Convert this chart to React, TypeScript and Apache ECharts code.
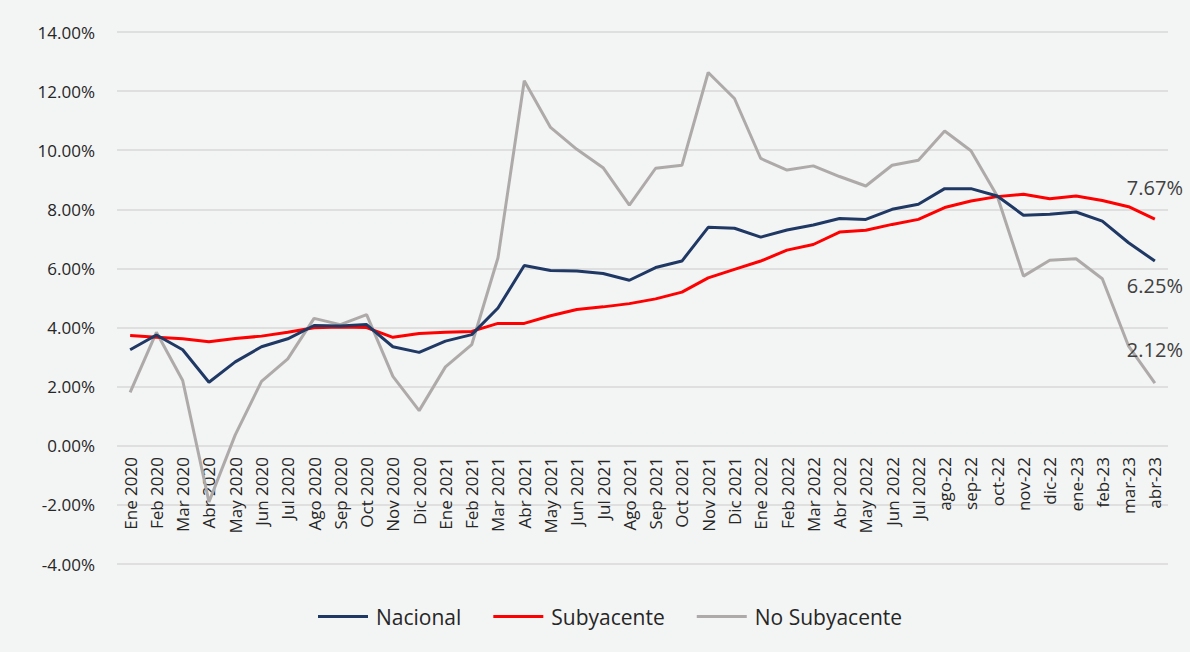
import React, { useEffect, useRef } from "react";
import * as echarts from "echarts";

const categories = [
  "Ene 2020", "Feb 2020", "Mar 2020", "Abr 2020", "May 2020", "Jun 2020", "Jul 2020", "Ago 2020", "Sep 2020", "Oct 2020", "Nov 2020", "Dic 2020",
  "Ene 2021", "Feb 2021", "Mar 2021", "Abr 2021", "May 2021", "Jun 2021", "Jul 2021", "Ago 2021", "Sep 2021", "Oct 2021", "Nov 2021", "Dic 2021",
  "Ene 2022", "Feb 2022", "Mar 2022", "Abr 2022", "May 2022", "Jun 2022", "Jul 2022",
  "ago-22", "sep-22", "oct-22", "nov-22", "dic-22", "ene-23", "feb-23", "mar-23", "abr-23",
];

const nacional = [
  3.25, 3.75, 3.25, 2.15, 2.84, 3.35, 3.62, 4.07, 4.05, 4.1, 3.35, 3.16,
  3.54, 3.76, 4.66, 6.1, 5.93, 5.91, 5.83, 5.6, 6.03, 6.25, 7.39, 7.36,
  7.06, 7.3, 7.47, 7.69, 7.66, 8.0, 8.17,
  8.7, 8.7, 8.45, 7.8, 7.83, 7.91, 7.6, 6.87, 6.25,
];

const subyacente = [
  3.73, 3.67, 3.62, 3.52, 3.63, 3.71, 3.84, 3.99, 4.02, 4.0, 3.67, 3.8,
  3.84, 3.87, 4.14, 4.14, 4.4, 4.61, 4.7, 4.81, 4.97, 5.2, 5.68, 5.97,
  6.25, 6.62, 6.81, 7.23, 7.29, 7.49, 7.66,
  8.06, 8.28, 8.43, 8.51, 8.36, 8.45, 8.3, 8.09, 7.67,
];

const noSubyacente = [
  1.81, 3.84, 2.21, -1.9, 0.37, 2.18, 2.94, 4.31, 4.1, 4.44, 2.35, 1.19,
  2.67, 3.42, 6.36, 12.35, 10.77, 10.03, 9.41, 8.14, 9.39, 9.49, 12.63, 11.75,
  9.72, 9.33, 9.47, 9.11, 8.79, 9.49, 9.66,
  10.65, 9.98, 8.45, 5.74, 6.28, 6.33, 5.65, 3.37, 2.12,
];

const yTicks = { min: -4, max: 14, interval: 2 };

const FONT = "'Open Sans', 'Noto Sans', 'DejaVu Sans', sans-serif";

function withEndLabel(values: number[], position: string, distance: number) {
  return values.map((v, i) =>
    i === values.length - 1
      ? {
          value: v,
          label: {
            show: true,
            position,
            distance,
            formatter: (p: any) => `${Number(p.value).toFixed(2)}%`,
            color: "#404040",
            fontSize: 20,
            fontFamily: FONT,
          },
        }
      : v
  );
}

export default function App() {
  const ref = useRef<HTMLDivElement>(null);

  useEffect(() => {
    document.body.style.margin = "0";
    if (!ref.current) return;
    const chart = echarts.init(ref.current, null, { renderer: "svg" });
    const lineSeries = (name: string, values: number[], color: string, pos: string, dist: number, z: number) => ({
      name,
      type: "line",
      symbol: "circle",
      symbolSize: 0,
      showSymbol: true,
      data: withEndLabel(values, pos, dist),
      lineStyle: { color, width: 3 },
      itemStyle: { color },
      z,
    });
    chart.setOption({
      animation: false,
      backgroundColor: "#f3f4f4",
      textStyle: { fontFamily: FONT },
      grid: { left: 117, right: 22, top: 32, bottom: 88, containLabel: false },
      legend: {
        bottom: 20,
        left: 313,
        itemWidth: 50,
        itemHeight: 3,
        itemGap: 32,
        textStyle: { fontSize: 21, color: "#262626", fontFamily: FONT, padding: [0, 0, 0, 3] },
        data: [
          { name: "Nacional", icon: "rect" },
          { name: "Subyacente", icon: "rect" },
          { name: "No Subyacente", icon: "rect" },
        ],
      },
      xAxis: {
        type: "category",
        data: categories,
        boundaryGap: true,
        offset: -118,
        axisLine: { show: false, onZero: false },
        axisTick: { show: false },
        axisLabel: {
          interval: 0,
          rotate: 90,
          fontSize: 17,
          color: "#262626",
          margin: 11,
          fontFamily: FONT,
        },
        splitLine: { show: false },
      },
      yAxis: {
        type: "value",
        min: yTicks.min,
        max: yTicks.max,
        interval: yTicks.interval,
        axisLine: { show: false },
        axisTick: { show: false },
        axisLabel: {
          fontSize: 17,
          color: "#262626",
          margin: 22,
          fontFamily: FONT,
          formatter: (v: number) => `${v.toFixed(2)}%`,
        },
        splitLine: { lineStyle: { color: "#d9d9d9", width: 1.5 } },
      },
      series: [
        lineSeries("Nacional", nacional, "#1f3864", "bottom", 14, 3),
        lineSeries("Subyacente", subyacente, "#ff0000", "top", 22, 2),
        lineSeries("No Subyacente", noSubyacente, "#aeaaaa", "top", 24, 1),
      ],
    });
    return () => chart.dispose();
  }, []);

  return <div ref={ref} style={{ width: 1190, height: 652 }} />;
}
